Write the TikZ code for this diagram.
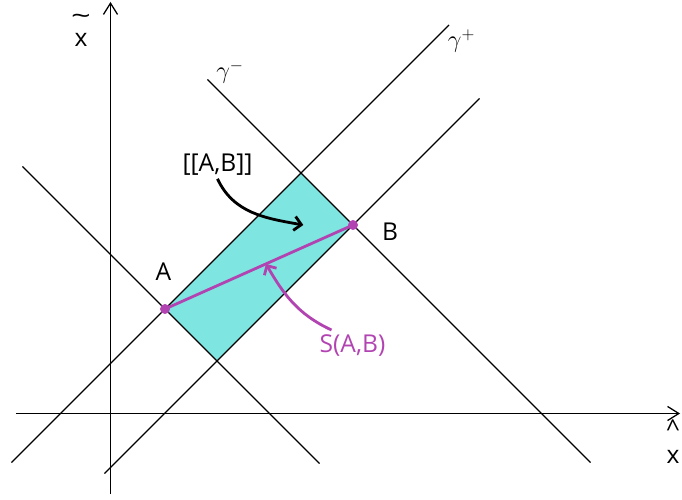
\documentclass[tikz,border=0pt]{standalone}
\usepackage{fontspec}
\usepackage{graphicx}
\setmainfont{Open Sans}
\usetikzlibrary{arrows.meta}
\definecolor{regioncyan}{RGB}{126,229,225}
\definecolor{segmagenta}{RGB}{178,68,178}
\newcommand{\accx}[2]{\begin{tabular}[b]{@{}c@{}}#1\\[#2]x\end{tabular}}
\tikzset{
  lbl/.style={font=\fontsize{17.5}{20}\selectfont, inner sep=2pt},
  charline/.style={line width=0.9pt},
  axis/.style={line width=0.9pt,-{Straight Barb[length=8pt,width=10pt]}},
  bendarrow/.style={line width=2pt,-{Straight Barb[length=5pt,width=10pt]}},
}
\begin{document}
\begin{tikzpicture}[x=0.025cm,y=0.025cm]
\useasboundingbox (-110.5,-85.5) rectangle (571.5,413.5);
% corners of the region
\coordinate (A) at (54.5,104.5);
\coordinate (T) at (190.5,240.5);
\coordinate (B) at (242.5,188.5);
\coordinate (D) at (106.5,52.5);
\fill [regioncyan] (A) -- (T) -- (B) -- (D) -- cycle;
% axes
\coordinate (xl) at (-94.5,0);
\coordinate (xr) at (569.5,0);
\coordinate (yb) at (0,-80.5);
\coordinate (yt) at (0,411.5);
\draw [axis] (xl) -- (xr);
\draw [axis] (yb) -- (yt);
% the four lines
\coordinate (ua) at (-99,-49);
\coordinate (ub) at (338.5,388.5);
\coordinate (uc) at (-6,-60);
\coordinate (ud) at (369,315);
\coordinate (va) at (-88,247);
\coordinate (vb) at (209,-50);
\coordinate (vc) at (97,334);
\coordinate (vd) at (480,-49);
\draw [charline] (ua) -- (ub);
\draw [charline] (uc) -- (ud);
\draw [charline] (va) -- (vb);
\draw [charline] (vc) -- (vd);
% segment S(A,B)
\draw [segmagenta, line width=2pt] (A) -- (B) coordinate[pos=0.537] (sab);
\fill [segmagenta] (A) circle (5);
\fill [segmagenta] (B) circle (5);
% labels
\node [lbl, anchor=base] (xtl) at (-29.5,366.5) {\accx{\scalebox{1.4}[1]{\textasciitilde}}{-4pt}};
\node [lbl, anchor=base] (xhl) at (562.5,-49.5) {\accx{\textasciicircum}{-2pt}};
\node [lbl] (gp) at (351,372.5) {$\gamma^+$};
\node [lbl] (gm) at (119.5,341.5) {$\gamma^-$};
\node [lbl] (albl) at (53,142) {A};
\node [lbl] (blbl) at (279.5,182) {B};
\node [lbl] (ablbl) at (107,248.5) {[[A,B]]};
\node [lbl, text=segmagenta] (slbl) at (242,67.5) {S(A,B)};
% pointers
\coordinate (abtip) at (192.8,188.5);
\coordinate (sfoot) at (221,83.5);
\draw [bendarrow] (ablbl.south) to [out=-65, in=170] (abtip);
\draw [bendarrow, segmagenta] (sfoot) to [out=155, in=-60] (sab);
\end{tikzpicture}
\end{document}
